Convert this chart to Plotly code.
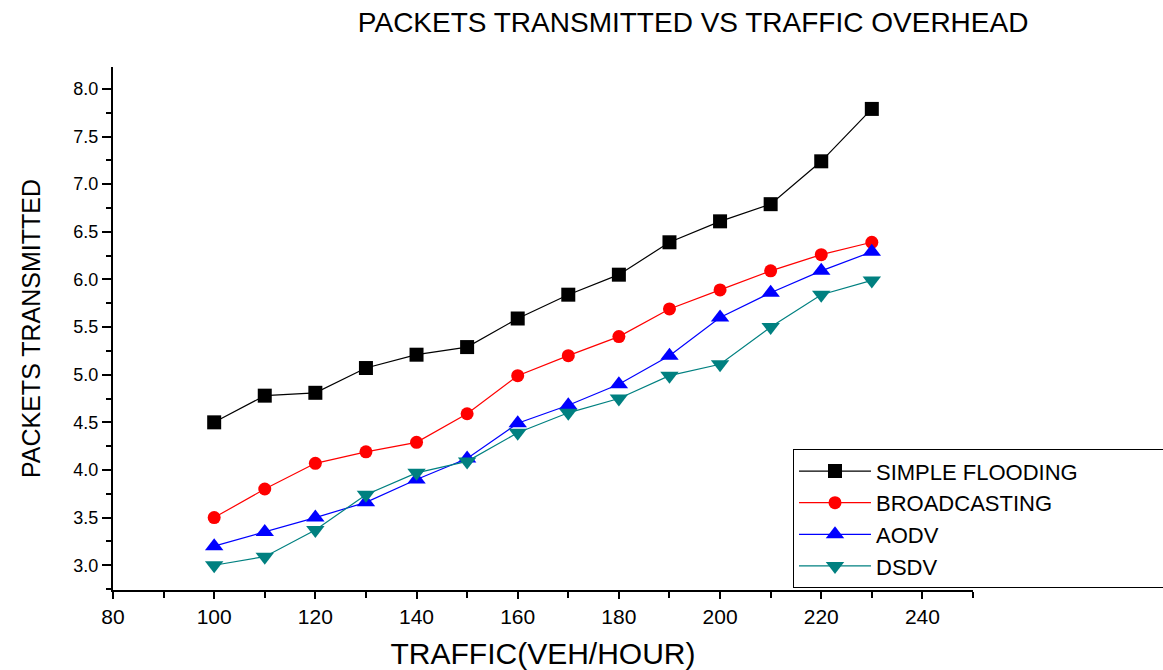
import plotly.graph_objects as go

traffic = [100, 110, 120, 130, 140, 150, 160, 170, 180, 190, 200, 210, 220, 230]
simple_flooding = [4.50, 4.78, 4.81, 5.07, 5.21, 5.29, 5.59, 5.84, 6.05, 6.39, 6.61, 6.79, 7.24, 7.79]
broadcasting = [3.50, 3.80, 4.07, 4.19, 4.29, 4.59, 4.99, 5.20, 5.40, 5.69, 5.89, 6.09, 6.26, 6.39]
aodv = [3.20, 3.35, 3.50, 3.66, 3.90, 4.12, 4.49, 4.68, 4.90, 5.20, 5.60, 5.86, 6.09, 6.29]
dsdv = [3.00, 3.09, 3.37, 3.74, 3.97, 4.09, 4.39, 4.60, 4.75, 4.99, 5.11, 5.50, 5.84, 5.99]

series = [
    ("SIMPLE FLOODING", simple_flooding, "#000000", "square", 14),
    ("BROADCASTING", broadcasting, "#FF0000", "circle", 13),
    ("AODV", aodv, "#0000FF", "triangle-up", 16),
    ("DSDV", dsdv, "#008080", "triangle-down", 16),
]

# trailing non-breaking spaces widen the legend box toward the right page edge
pads = {"SIMPLE FLOODING": "\u00a0" * 13}

fig = go.Figure()
for name, ys, color, sym, size in series:
    fig.add_trace(go.Scatter(
        x=traffic, y=ys, name=name + pads.get(name, ""), mode="lines+markers",
        line=dict(color=color, width=1.2),
        marker=dict(symbol=sym, size=size, color=color, line=dict(width=0)),
    ))

font_family = "Liberation Sans, Arial, sans-serif"

fig.update_layout(
    width=1163, height=670,
    margin=dict(l=113, r=190, t=67, b=80, autoexpand=False),
    paper_bgcolor="white", plot_bgcolor="white",
    font=dict(family=font_family, color="#000000"),
    title=dict(text="PACKETS TRANSMITTED VS TRAFFIC OVERHEAD", x=0.596, xanchor="center",
               y=0.967, yanchor="middle", font=dict(size=28, color="#000000")),
    showlegend=True,
    legend=dict(x=0.7907, y=0.269, xanchor="left", yanchor="top",
                bgcolor="white", bordercolor="#000000", borderwidth=1,
                font=dict(size=22, color="#000000"), itemwidth=72,
                tracegroupgap=0),
    xaxis=dict(range=[80, 250], dtick=20, tick0=80, showgrid=False, zeroline=False,
               showline=True, linecolor="#000000", linewidth=2,
               ticks="outside", ticklen=7, tickwidth=2, tickcolor="#000000",
               tickfont=dict(size=21),
               minor=dict(dtick=10, tick0=80, ticks="outside", ticklen=6, tickwidth=2, tickcolor="#000000"),
               title=dict(text="TRAFFIC(VEH/HOUR)", font=dict(size=30), standoff=18)),
    yaxis=dict(range=[2.74, 8.23], dtick=0.5, tick0=3.0, tickformat=".1f", showgrid=False, zeroline=False,
               showline=True, linecolor="#000000", linewidth=2,
               ticks="outside", ticklen=9, tickwidth=2, tickcolor="#000000",
               tickfont=dict(size=18),
               minor=dict(dtick=0.25, tick0=3.0, ticks="outside", ticklen=5, tickwidth=2, tickcolor="#000000"),
               title=dict(text="PACKETS TRANSMITTED", font=dict(size=25), standoff=26)),
)

fig.write_html("out.html")
